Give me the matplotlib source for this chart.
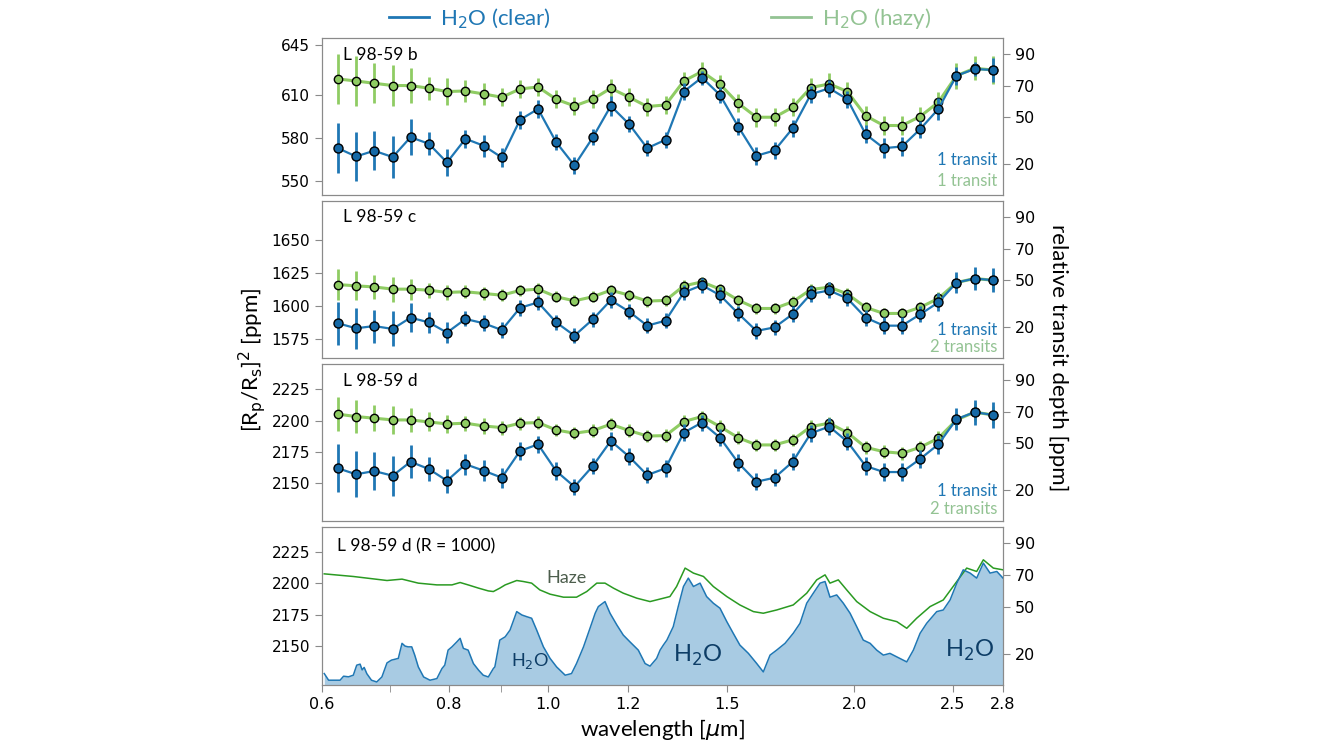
import numpy as np
import matplotlib
matplotlib.use("Agg")
import matplotlib.pyplot as plt
from matplotlib.lines import Line2D
from matplotlib.ticker import FixedLocator, NullFormatter, FixedFormatter

plt.rcParams['font.family'] = ['Lato', 'DejaVu Sans']

# binned wavelengths [um]
wl = [0.622, 0.648, 0.675, 0.704, 0.733, 0.764, 0.796, 0.830, 0.865, 0.901, 0.939, 0.978,
      1.019, 1.062, 1.107, 1.153, 1.202, 1.252, 1.305, 1.360, 1.417, 1.476, 1.538, 1.603,
      1.670, 1.740, 1.813, 1.890, 1.969, 2.052, 2.138, 2.228, 2.321, 2.419, 2.520, 2.626, 2.736]

# L 98-59 b
b_clear = [572.8, 567.0, 571.0, 566.6, 580.5, 575.9, 562.8, 579.4, 574.5, 566.3, 592.7, 600.3,
           577.0, 560.7, 580.3, 602.4, 589.6, 572.8, 578.7, 612.5, 622.3, 610.1, 588.0, 567.5,
           571.2, 586.8, 610.6, 614.8, 607.1, 582.6, 572.8, 574.0, 586.1, 600.3, 623.6, 628.3, 627.6]
b_hazy = [621.3, 619.9, 618.3, 616.7, 616.7, 614.8, 612.5, 612.9, 610.8, 608.5, 614.3, 615.7,
          607.1, 602.4, 607.1, 614.8, 608.5, 602.0, 603.1, 619.9, 626.5, 617.6, 604.3, 594.5,
          594.5, 601.5, 615.3, 617.8, 612.5, 595.5, 588.7, 588.7, 595.0, 605.0, 623.6, 628.8, 627.6]
b_err_clear = [17.7, 17.0, 13.8, 15.0, 12.5, 8.2, 9.3, 6.4, 7.8, 6.6, 6.4, 6.2, 5.8, 6.2, 5.6, 6.8,
               5.6, 5.8, 5.5, 5.8, 4.9, 5.8, 5.8, 6.4, 5.7, 6.0, 6.0, 6.0, 6.0, 6.2, 7.0, 6.6, 6.0,
               7.6, 6.4, 5.2, 8.6]
b_err_hazy = [17.8, 17.2, 14.0, 14.6, 12.5, 8.2, 9.3, 7.6, 7.6, 6.2, 6.2, 6.6, 6.4, 6.4, 6.4, 6.2,
              6.4, 6.3, 6.4, 6.4, 6.5, 6.4, 6.3, 6.6, 6.2, 6.4, 6.6, 7.9, 6.4, 6.9, 6.4, 6.4, 6.8,
              7.2, 9.1, 8.5, 9.7]

# L 98-59 c
c_clear = [1586.9, 1583.1, 1584.8, 1582.6, 1591.2, 1587.6, 1579.8, 1590.2, 1586.9, 1581.8, 1598.7,
           1602.8, 1587.6, 1577.5, 1589.9, 1604.5, 1595.7, 1585.1, 1588.9, 1610.4, 1615.9, 1608.3,
           1594.4, 1581.1, 1583.8, 1593.9, 1609.3, 1611.9, 1605.8, 1591.2, 1585.1, 1585.1, 1593.7,
           1602.8, 1617.9, 1621.0, 1619.7]
c_hazy = [1616.4, 1615.4, 1614.6, 1612.9, 1612.9, 1612.1, 1610.4, 1610.9, 1609.6, 1608.3, 1611.9,
          1612.9, 1607.1, 1604.0, 1607.1, 1612.1, 1608.3, 1603.8, 1604.3, 1615.4, 1618.4, 1612.9,
          1604.5, 1598.2, 1598.2, 1603.3, 1612.6, 1614.4, 1609.3, 1599.0, 1594.4, 1594.4, 1599.0,
          1605.8, 1617.9, 1621.0, 1619.7]
c_err_clear = [16.2, 15.4, 12.6, 13.3, 11.2, 8.2, 8.0, 5.7, 6.1, 6.3, 5.9, 5.9, 5.9, 5.7, 5.9, 6.1,
               5.9, 5.9, 5.9, 5.9, 5.7, 5.9, 5.9, 6.1, 5.9, 5.9, 6.1, 6.1, 5.9, 6.1, 6.3, 6.3, 6.1,
               6.9, 8.2, 8.8, 9.3]
c_err_hazy = [12.1, 11.1, 9.2, 9.5, 8.0, 5.8, 5.9, 5.0, 5.0, 4.5, 4.3, 4.3, 4.3, 4.2, 4.3, 4.3,
              4.2, 4.2, 4.2, 4.2, 4.1, 4.2, 4.2, 4.3, 4.2, 4.2, 4.3, 4.3, 4.2, 4.3, 4.4, 4.4, 4.3,
              4.9, 5.8, 6.2, 6.6]

# L 98-59 d
d_clear = [2162.0, 2157.2, 2159.8, 2156.1, 2167.2, 2161.4, 2152.1, 2165.2, 2160.1, 2154.5, 2175.8,
           2181.1, 2159.8, 2147.3, 2163.8, 2183.8, 2171.2, 2156.6, 2162.0, 2190.4, 2198.4, 2186.4,
           2166.4, 2151.3, 2154.5, 2167.2, 2189.9, 2195.2, 2183.2, 2163.8, 2159.0, 2159.0, 2169.4,
           2181.1, 2201.1, 2206.7, 2204.5]
d_hazy = [2205.1, 2203.2, 2201.9, 2200.5, 2200.5, 2198.9, 2197.3, 2197.9, 2195.7, 2194.4, 2197.9,
          2198.4, 2192.5, 2189.9, 2192.0, 2197.1, 2192.0, 2187.7, 2188.0, 2199.2, 2203.2, 2195.2,
          2186.4, 2180.6, 2180.6, 2184.6, 2195.2, 2197.9, 2190.4, 2178.7, 2175.2, 2173.9, 2178.7,
          2185.9, 2200.5, 2206.7, 2204.5]
d_err_clear = [19.2, 18.2, 14.9, 16.0, 13.3, 9.2, 9.7, 8.2, 8.6, 8.0, 7.3, 6.6, 6.9, 6.4, 6.6, 6.9,
               6.6, 6.6, 6.6, 6.6, 6.4, 6.6, 6.6, 6.9, 6.6, 6.6, 6.9, 6.9, 6.6, 6.9, 7.1, 7.1, 6.9,
               7.6, 8.6, 10.0, 10.2]
d_err_hazy = [13.6, 13.0, 10.6, 10.9, 9.6, 7.6, 7.0, 6.0, 6.2, 5.6, 5.3, 5.0, 5.0, 4.8, 5.0, 5.0,
              4.9, 4.9, 4.9, 4.9, 4.8, 4.9, 4.9, 5.0, 4.9, 4.9, 5.0, 5.0, 4.9, 5.0, 5.1, 5.1, 5.0,
              5.4, 6.1, 7.1, 7.2]

# L 98-59 d at R = 1000
hr_wl = [0.603, 0.609, 0.625, 0.630, 0.637, 0.644, 0.649, 0.654, 0.657, 0.660, 0.664, 0.671,
         0.679, 0.687, 0.695, 0.702, 0.713, 0.719, 0.724, 0.729, 0.735, 0.740, 0.746, 0.755,
         0.766, 0.778, 0.787, 0.792, 0.798, 0.805, 0.814, 0.820, 0.826, 0.835, 0.845, 0.855,
         0.864, 0.874, 0.884, 0.887, 0.897, 0.908, 0.918, 0.932, 0.943, 0.953, 0.964, 0.975,
         0.990, 1.005, 1.020, 1.040, 1.055, 1.067, 1.084, 1.100, 1.113, 1.121, 1.138, 1.151,
         1.169, 1.186, 1.204, 1.227, 1.246, 1.260, 1.279, 1.289, 1.299, 1.309, 1.328, 1.343,
         1.359, 1.374, 1.390, 1.411, 1.432, 1.454, 1.476, 1.499, 1.521, 1.544, 1.574, 1.604,
         1.628, 1.653, 1.678, 1.710, 1.742, 1.769, 1.796, 1.823, 1.851, 1.872, 1.893, 1.922,
         1.951, 1.981, 2.011, 2.041, 2.073, 2.104, 2.136, 2.168, 2.202, 2.252, 2.286, 2.321,
         2.356, 2.410, 2.446, 2.484, 2.522, 2.559, 2.599, 2.638, 2.678, 2.719, 2.761, 2.800]
hr_clear = [2128.1, 2122.8, 2122.8, 2126.0, 2125.5, 2126.8, 2134.8, 2135.6, 2131.0, 2133.0, 2128.0,
            2122.8, 2121.4, 2125.4, 2136.6, 2138.8, 2140.2, 2152.2, 2150.0, 2149.4, 2149.4, 2142.8,
            2133.4, 2125.4, 2122.8, 2124.1, 2132.1, 2134.8, 2146.8, 2149.4, 2153.4, 2156.2, 2148.2,
            2146.8, 2136.1, 2130.8, 2126.8, 2125.4, 2132.1, 2133.4, 2154.8, 2157.4, 2162.8, 2177.5,
            2174.8, 2173.5, 2172.2, 2162.8, 2149.4, 2140.2, 2133.4, 2126.8, 2128.1, 2136.1, 2149.4,
            2164.2, 2176.2, 2181.5, 2185.5, 2176.2, 2166.8, 2158.8, 2153.4, 2146.8, 2136.1, 2134.0,
            2140.2, 2146.8, 2151.0, 2154.8, 2165.5, 2181.5, 2197.5, 2204.2, 2197.5, 2200.2, 2189.5,
            2184.2, 2180.2, 2169.5, 2160.2, 2150.8, 2144.2, 2136.1, 2129.4, 2142.8, 2146.8, 2152.2,
            2160.2, 2168.2, 2184.2, 2192.2, 2200.2, 2201.5, 2189.0, 2190.8, 2184.2, 2176.2, 2165.5,
            2154.8, 2152.2, 2146.8, 2142.8, 2144.2, 2141.4, 2137.4, 2146.8, 2160.2, 2168.2, 2177.5,
            2178.8, 2186.8, 2200.2, 2210.8, 2208.2, 2204.2, 2216.2, 2208.2, 2209.5, 2204.2]
hz_wl = [0.603, 0.644, 0.695, 0.719, 0.746, 0.778, 0.805, 0.820, 0.835, 0.855, 0.874, 0.884,
         0.897, 0.908, 0.932, 0.946, 0.964, 0.982, 1.005, 1.036, 1.067, 1.092, 1.117, 1.138,
         1.160, 1.186, 1.223, 1.260, 1.299, 1.318, 1.338, 1.364, 1.390, 1.422, 1.454, 1.499,
         1.544, 1.592, 1.628, 1.678, 1.742, 1.796, 1.837, 1.872, 1.893, 1.929, 1.966, 2.011,
         2.073, 2.136, 2.202, 2.252, 2.303, 2.374, 2.446, 2.522, 2.579, 2.638, 2.678, 2.739, 2.800]
hz_depth = [2207.6, 2205.5, 2202.3, 2203.4, 2200.2, 2198.8, 2198.8, 2200.7, 2198.8, 2196.2, 2194.0,
            2193.5, 2196.2, 2198.8, 2202.3, 2201.5, 2200.2, 2194.8, 2191.4, 2189.0, 2189.0, 2193.5,
            2200.2, 2200.2, 2196.2, 2192.2, 2188.2, 2185.5, 2188.2, 2189.5, 2197.5, 2212.2, 2208.2,
            2205.5, 2197.5, 2189.5, 2182.8, 2177.5, 2176.2, 2178.8, 2182.8, 2192.2, 2202.8, 2206.8,
            2200.2, 2202.8, 2194.8, 2185.5, 2177.5, 2172.2, 2169.5, 2164.2, 2172.2, 2181.5, 2186.8,
            2201.5, 2212.2, 2209.5, 2218.8, 2212.2, 2210.8]

names = ['L 98-59 b', 'L 98-59 c', 'L 98-59 d']
ylims = [(540, 650), (1560.5, 1680), (2120, 2245)]
yticks = [[550, 580, 610, 645], [1575, 1600, 1625, 1650], [2150, 2175, 2200, 2225]]
hazy_label = ['1 transit', '2 transits', '2 transits']
label_y = [(0.223, 0.089), (0.178, 0.07), (0.19, 0.075)]

xmaj = [0.6, 0.8, 1.0, 1.2, 1.5, 2.0, 2.5, 2.8]
xmaj_lab = ['0.6', '0.8', '1.0', '1.2', '1.5', '2.0', '2.5', '2.8']
rticks = [20, 50, 70, 90]

blue = '#1f77b4'
blue_dot = '#1569a6'
green = '#8fcc63'
green_txt = '#93c393'
grey = '#8a8a8a'

fig = plt.figure(figsize=(13.34, 7.5), dpi=100)
bottoms = [0.74, 0.5227, 0.3053, 0.0867]
heights = [0.2093, 0.2093, 0.2093, 0.2107]
axes = [fig.add_axes([0.2414, bottoms[i], 0.5105, heights[i]]) for i in range(4)]


def style(ax, last=False):
    ax.set_xscale('log')
    ax.set_xlim(0.6, 2.8)
    for s in ax.spines.values():
        s.set_color(grey)
    ax.tick_params(axis='y', color=grey, length=5, labelsize=11)
    if last:
        ax.xaxis.set_major_locator(FixedLocator(xmaj))
        ax.xaxis.set_major_formatter(FixedFormatter(xmaj_lab))
        ax.xaxis.set_minor_locator(FixedLocator([0.7, 0.9]))
        ax.xaxis.set_minor_formatter(NullFormatter())
        ax.tick_params(axis='x', which='both', color=grey, length=5, labelsize=11.5)
    else:
        ax.set_xticks([])
        ax.xaxis.set_minor_locator(FixedLocator([]))
    ax2 = ax.twinx()
    ax2.set_ylim(0.5, 100.4)
    ax2.set_yticks(rticks)
    ax2.tick_params(axis='y', color=grey, length=5, labelsize=11.5)
    for s in ax2.spines.values():
        s.set_color(grey)
    for lab in ax.get_yticklabels() + ax2.get_yticklabels() + ax.get_xticklabels():
        lab.set_fontfamily('DejaVu Sans')
    return ax2


data = [(b_clear, b_err_clear, b_hazy, b_err_hazy),
        (c_clear, c_err_clear, c_hazy, c_err_hazy),
        (d_clear, d_err_clear, d_hazy, d_err_hazy)]

for i in range(3):
    ax = axes[i]
    clear, eclear, hazy, ehazy = data[i]
    ax.errorbar(wl, clear, yerr=eclear, fmt='-o', color=blue, ecolor=blue, mfc=blue_dot, mec='k',
                ms=6.5, mew=1, lw=1.6, elinewidth=2, capsize=0, zorder=3)
    ax.errorbar(wl, hazy, yerr=ehazy, fmt='-o', color=green, ecolor=green, mfc=green, mec='k',
                ms=6, mew=1, lw=2.2, elinewidth=2, capsize=0, zorder=2)
    ax.set_ylim(*ylims[i])
    ax.set_yticks(yticks[i])
    style(ax)
    ax.text(0.031, 0.895, names[i], transform=ax.transAxes, fontsize=12.5, va='center')
    ax.text(0.992, label_y[i][0], '1 transit', color=blue, transform=ax.transAxes,
            fontsize=12, ha='right', va='center')
    ax.text(0.992, label_y[i][1], hazy_label[i], color=green_txt, transform=ax.transAxes,
            fontsize=12, ha='right', va='center')

# high resolution panel
ax = axes[3]
ax.fill_between(hr_wl, 2100, hr_clear, color='#a8cbe3', lw=0, zorder=1)
ax.plot(hr_wl, hr_clear, color=blue, lw=1.1, zorder=3)
ax.plot(hz_wl, hz_depth, color='#2a9a22', lw=1.1, zorder=2)
ax.set_ylim(2119, 2245)
ax.set_yticks([2150, 2175, 2200, 2225])
style(ax, last=True)
ax.text(0.022, 0.88, 'L 98-59 d (R = 1000)', transform=ax.transAxes, fontsize=12.5, va='center')
ax.text(1.044, 2204.4, 'Haze', color='#4d5e4d', fontsize=13, ha='center', va='center')
ax.text(0.960, 2138, 'H$_2$O', color='#0d3d66', fontsize=13, ha='center', va='center')
ax.text(1.404, 2142.8, 'H$_2$O', color='#0d3d66', fontsize=17, ha='center', va='center')
ax.text(2.599, 2146.8, 'H$_2$O', color='#0d3d66', fontsize=17, ha='center', va='center')
ax.set_xlabel('wavelength [$\\mu$m]', fontsize=16)

fig.text(0.189, 0.52, '[R$_\\mathrm{p}$/R$_\\mathrm{s}$]$^2$ [ppm]', rotation=90,
         fontsize=16, ha='center', va='center')
fig.text(0.793, 0.523, 'relative transit depth [ppm]', rotation=270,
         fontsize=16, ha='center', va='center')

handles = [Line2D([], [], color=blue, lw=2), Line2D([], [], color=green_txt, lw=2)]
leg = fig.legend(handles, ['H$_2$O (clear)', 'H$_2$O (hazy)'], loc='center',
                 bbox_to_anchor=(0.495, 0.975), ncol=2, frameon=False, fontsize=16,
                 columnspacing=9.9, handlelength=1.8, handletextpad=0.5)
for t, c in zip(leg.get_texts(), [blue, green_txt]):
    t.set_color(c)

fig.savefig('out.png', dpi=100)
